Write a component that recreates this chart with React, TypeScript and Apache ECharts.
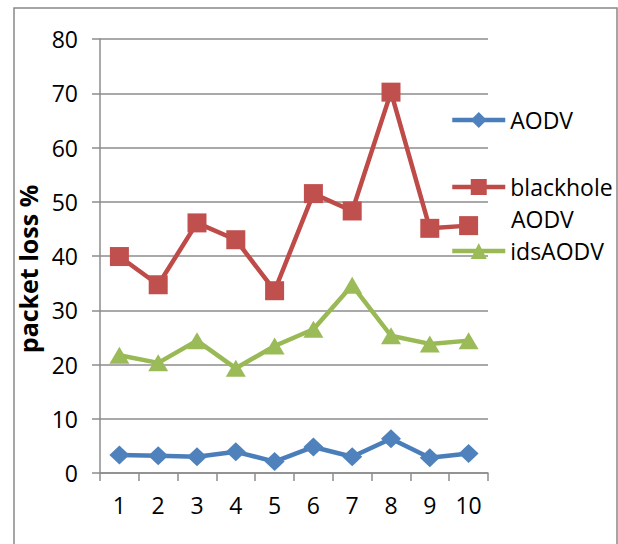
import React, { useEffect, useRef } from "react";
import * as echarts from "echarts";

const categories = ["1", "2", "3", "4", "5", "6", "7", "8", "9", "10"];
const aodv = [3.3, 3.2, 3.0, 3.9, 2.1, 4.8, 3.0, 6.3, 2.8, 3.6];
const blackholeAodv = [39.9, 34.7, 46.1, 43.0, 33.6, 51.5, 48.3, 70.2, 45.1, 45.6];
const idsAodv = [21.7, 20.3, 24.4, 19.3, 23.4, 26.5, 34.6, 25.3, 23.8, 24.4];

const FONT = "'Open Sans', sans-serif";
const GRID_COLOR = "#8c8c8c";

export default function App() {
  const ref = useRef<HTMLDivElement>(null);
  useEffect(() => {
    if (!ref.current) return;
    const chart = echarts.init(ref.current, null, { renderer: "svg" });
    const legendBase = {
      orient: "vertical",
      left: 450,
      padding: 0,
      itemWidth: 53,
      itemHeight: 20,
      lineStyle: { width: 4.5 },
      textStyle: { fontFamily: FONT, fontSize: 23, color: "#000", lineHeight: 30 },
    };
    chart.setOption({
      animation: false,
      backgroundColor: "#fff",
      graphic: [
        {
          type: "rect",
          shape: { x: 14, y: 8, width: 603, height: 560 },
          style: { fill: "none", stroke: "#888", lineWidth: 1.5 },
          silent: true,
        },
        {
          type: "text",
          x: 511,
          y: 219,
          style: {
            text: "AODV",
            fontFamily: FONT,
            fontSize: 23,
            fill: "#000",
            verticalAlign: "middle",
          },
        },
      ],
      legend: [
        { ...legendBase, top: 105, data: ["AODV"] },
        { ...legendBase, top: 172, data: ["blackhole AODV"], formatter: () => "blackhole" },
        { ...legendBase, top: 236, data: ["idsAODV"] },
      ],
      grid: { left: 100, top: 39, right: 130, bottom: 71, containLabel: false },
      xAxis: {
        type: "category",
        data: categories,
        boundaryGap: true,
        axisLine: { lineStyle: { color: GRID_COLOR, width: 1.5 } },
        axisTick: { show: true, length: 8, lineStyle: { color: GRID_COLOR, width: 1.5 } },
        axisLabel: { fontFamily: FONT, fontSize: 23, color: "#000", margin: 20 },
      },
      yAxis: {
        type: "value",
        min: 0,
        max: 80,
        interval: 10,
        name: "packet loss %",
        nameLocation: "middle",
        nameRotate: 90,
        nameGap: 43,
        nameTextStyle: {
          fontFamily: FONT,
          fontSize: 25,
          fontWeight: "bold",
          color: "#000",
          padding: [0, 26, 0, 0],
        },
        axisLine: { show: true, lineStyle: { color: GRID_COLOR, width: 1.5 } },
        axisTick: { show: true, length: 8, lineStyle: { color: GRID_COLOR, width: 1.5 } },
        axisLabel: { fontFamily: FONT, fontSize: 23, color: "#000", margin: 22 },
        splitLine: { show: true, lineStyle: { color: GRID_COLOR, width: 1.5 } },
      },
      series: [
        {
          name: "AODV",
          type: "line",
          data: aodv,
          symbol: "diamond",
          symbolSize: [20, 19],
          lineStyle: { color: "#4A7EBB", width: 4.5 },
          itemStyle: { color: "#4F81BD" },
        },
        {
          name: "blackhole AODV",
          type: "line",
          data: blackholeAodv,
          symbol: "rect",
          symbolSize: [19, 19],
          lineStyle: { color: "#BE4B48", width: 4.5 },
          itemStyle: { color: "#C0504D" },
        },
        {
          name: "idsAODV",
          type: "line",
          data: idsAodv,
          symbol: "triangle",
          symbolSize: [20, 17],
          lineStyle: { color: "#98B954", width: 4.5 },
          itemStyle: { color: "#9BBB59" },
        },
      ],
    });
    return () => chart.dispose();
  }, []);
  return (
    <div
      ref={ref}
      style={{ position: "absolute", left: 0, top: 0, width: 618, height: 544 }}
    />
  );
}
